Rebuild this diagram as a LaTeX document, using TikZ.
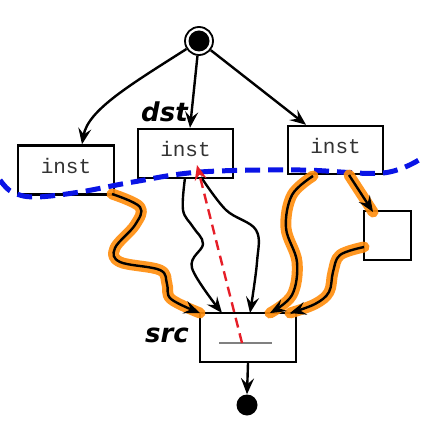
\documentclass[tikz,border=0pt]{standalone}
\usepackage{fontspec}
\setmainfont{DejaVu Sans}
\newfontfamily\monofont{Liberation Mono}
\newfontfamily\labfont{DejaVu Sans}
\usetikzlibrary{arrows.meta}
\definecolor{hiorange}{RGB}{255,140,10}
\definecolor{dashblue}{RGB}{10,20,230}
\definecolor{dashred}{RGB}{230,30,40}
\tikzset{
  box/.style={draw=black, line width=2.4pt, fill=white, inner sep=0pt},
  instbox/.style={box},
  insttext/.style={font=\monofont\fontsize{21}{21}\selectfont, text=black!80},
  arr/.style={-{Stealth[length=16pt,width=13pt,inset=6pt]}, line width=2.4pt},
  hilite/.style={draw=hiorange, line width=11pt, line cap=round, line join=round, opacity=0.9},
  lab/.style={font=\labfont\bfseries\itshape\fontsize{26}{26}\selectfont, inner sep=0pt},
}
\begin{document}
\begin{tikzpicture}[x=1pt,y=-1pt]
\useasboundingbox (0,0) rectangle (422,430);
% boxes
\node[instbox, minimum width=96pt, minimum height=49pt] (lb) at (66,170) {};
\node[insttext] (lbt) at (66,166) {inst};
\node[instbox, minimum width=95pt, minimum height=49pt] (mb) at (185.5,153.5) {};
\node[insttext] (mbt) at (185.5,149) {inst};
\node[instbox, minimum width=95pt, minimum height=48pt] (rb) at (335.5,150) {};
\node[insttext] (rbt) at (335.5,146) {inst};
\node[box, minimum width=47pt, minimum height=49pt] (sb) at (387.5,235.5) {};
\node[box, minimum width=96pt, minimum height=49pt] (src) at (248,337.5) {};
\coordinate (gl1) at (219,343);
\coordinate (gl2) at (272,343);
\draw[gray, line width=1.3pt] (gl1) -- (gl2);
% labels
\node[lab, anchor=base west] (dst) at (141,122) {dst};
\node[lab, anchor=base west] (srcl) at (145,342) {src};
% start and end
\node[circle, draw=black, line width=1.8pt, minimum size=28pt, inner sep=0pt] (start) at (199,41) {};
\node[circle, fill=black, minimum size=21pt, inner sep=0pt] (startin) at (199,41) {};
\node[circle, fill=black, minimum size=21pt, inner sep=0pt] (end) at (247,405) {};
% arrows from start
\draw[arr] (start) .. controls (130,85) and (88,110) .. ([xshift=16pt]lb.north);
\draw[arr] (start) -- ([xshift=4.5pt]mb.north);
\draw[arr] (start) -- ([xshift=-29.5pt]rb.north);
\draw[arr] (src.south) -- (end.north);
% blue dashed boundary
\coordinate (bl0) at (0,180);
\coordinate (bl1) at (422,158);
\draw[dashblue, line width=5pt, dash pattern=on 15pt off 8pt]
  plot[smooth, tension=0.6] coordinates {(bl0) (12,192) (35,197) (80,192) (133,182) (200,172) (300,170) (383,173) (bl1)};
% orange highlighted paths
\coordinate (p1s) at (112,194);
\coordinate (p1e) at (200,313);
\coordinate (p2s) at (313,176);
\coordinate (p2e) at (270,313);
\coordinate (p3s) at (349,175);
\coordinate (p3e) at (373,212);
\coordinate (p4s) at (364,247);
\coordinate (p4e) at (290,313);
\foreach \pth in {
  {(p1s) (140,207) (135,225) (115,248) (120,262) (160,270) (167,284) (171,299) (p1e)},
  {(p2s) (292,195) (286,228) (297,262) (292,295) (p2e)},
  {(p3s) (p3e)},
  {(p4s) (340,255) (333,272) (329,292) (315,304) (p4e)}}
  \draw[hilite] plot[smooth, tension=0.6] coordinates \pth;
\draw[arr] plot[smooth, tension=0.6] coordinates {(p1s) (140,207) (135,225) (115,248) (120,262) (160,270) (167,284) (171,299) (p1e)};
\draw[arr] plot[smooth, tension=0.6] coordinates {(p2s) (292,195) (286,228) (297,262) (292,295) (p2e)};
\draw[arr] (p3s) -- (p3e);
\draw[arr] plot[smooth, tension=0.6] coordinates {(p4s) (340,255) (333,272) (329,292) (315,304) (p4e)};
% black wiggly paths
\coordinate (q1s) at (185,178);
\coordinate (q1e) at (222,313);
\coordinate (q2s) at (201,177);
\coordinate (q2e) at (250,313);
\draw[arr] plot[smooth, tension=0.6] coordinates {(q1s) (183,210) (193,227) (203,244) (192,268) (q1e)};
\draw[arr] plot[smooth, tension=0.6] coordinates {(q2s) (226,210) (256,230) (257,262) (q2e)};
% red dashed arrow
\coordinate (r1) at (242,343);
\coordinate (r2) at (197,165);
\draw[dashred, line width=2.4pt, dash pattern=on 10pt off 6pt, -{Stealth[length=15pt,width=12pt,inset=5pt]}] (r1) -- (r2);
\end{tikzpicture}
\end{document}
